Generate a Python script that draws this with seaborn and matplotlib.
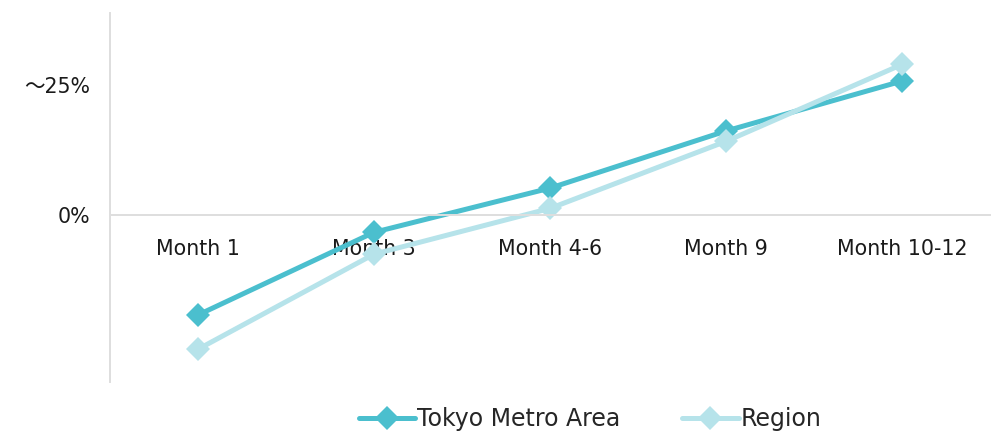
import pandas as pd
import matplotlib.pyplot as plt
import seaborn as sns

# Values (percent)
months = ['Month 1', 'Month 3', 'Month 4-6', 'Month 9', 'Month 10-12']
tokyo = [-19.2, -3.3, 5.2, 16.2, 25.8]
region = [-25.8, -7.5, 1.3, 14.2, 29.0]
series = ['Tokyo Metro Area', 'Region']
colors = ['#4BBFCE', '#B6E3EA']
ytick_vals = [0, 25]
ytick_labels = ['0%', '〜25%']

df = pd.DataFrame({
    'month': months * 2,
    'value': tokyo + region,
    'series': [series[0]] * len(months) + [series[1]] * len(months),
})

sns.set_style('white')
plt.rcParams['font.family'] = ['DejaVu Sans', 'Noto Sans CJK JP']

fig = plt.figure(figsize=(9.95, 4.32), dpi=100)
ax = fig.add_axes([110 / 995, 1 - 382 / 432, 880 / 995, 369 / 432])

sns.lineplot(data=df, x='month', y='value', hue='series', style='series',
             hue_order=series, style_order=series, palette=colors,
             markers=['D', 'D'], dashes=False, linewidth=3.6, markersize=12,
             markeredgewidth=0, sort=False, ax=ax)

ax.set_xlim(-0.5, 4.5)
ax.set_ylim(-32.1, 38.9)
ax.set_yticks(ytick_vals)
ax.set_yticklabels(ytick_labels)
ax.set_xlabel('')
ax.set_ylabel('')

for s in ['top', 'right']:
    ax.spines[s].set_visible(False)
ax.spines['bottom'].set_position(('data', 0))
ax.spines['bottom'].set_color('#DEDEDE')
ax.spines['bottom'].set_linewidth(1.4)
ax.spines['left'].set_color('#DEDEDE')
ax.spines['left'].set_linewidth(1.4)

ax.tick_params(axis='x', length=0, pad=17, labelsize=14.8, labelcolor='#1a1a1a')
ax.tick_params(axis='y', length=0, pad=14, labelsize=14.8, labelcolor='#1a1a1a')

handles, labels = ax.get_legend_handles_labels()
ax.legend(handles, labels, loc='center', ncol=2, frameon=False,
          bbox_to_anchor=(590 / 995, 1 - 419 / 432),
          bbox_transform=fig.transFigure, fontsize=17,
          handlelength=2.4, handletextpad=0.08, columnspacing=2.6)

fig.savefig('out.png', dpi=100)
